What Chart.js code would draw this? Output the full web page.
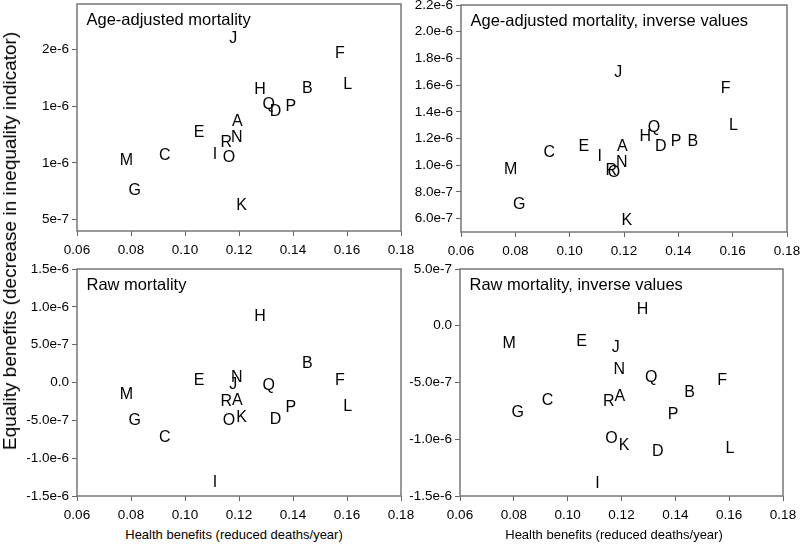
<!DOCTYPE html>
<html>
<head>
<meta charset="utf-8">
<script src="https://cdn.jsdelivr.net/npm/chart.js@4.4.1/dist/chart.umd.min.js"></script>
<style>
    html, body { margin: 0; padding: 0; background: #fff; }
    #page { position: relative; width: 800px; height: 546px; overflow: hidden; font-family: "Liberation Sans", Arial, sans-serif; }
    #page canvas { position: absolute; }
    .axis-title { position: absolute; color: #000; white-space: nowrap; }
    #yTitle { font-size: 19px; left: 10px; top: 241px; transform: translate(-50%, -50%) rotate(-90deg); }
    .x-title { font-size: 13px; line-height: 16px; top: 527px; transform: translateX(-50%); }
</style>
</head>
<body>
<div id="page">
    <canvas id="ageChart" width="420" height="262" style="left:0;top:0"></canvas>
    <canvas id="ageInvChart" width="400" height="262" style="left:400px;top:0"></canvas>
    <canvas id="rawChart" width="420" height="264" style="left:0;top:262px"></canvas>
    <canvas id="rawInvChart" width="400" height="264" style="left:400px;top:262px"></canvas>
    <div id="yTitle" class="axis-title">Equality benefits (decrease in inequality indicator)</div>
    <div class="axis-title x-title" style="left:234px">Health benefits (reduced deaths/year)</div>
    <div class="axis-title x-title" style="left:614px">Health benefits (reduced deaths/year)</div>
</div>
<script>
const letters = ['A', 'B', 'C', 'D', 'E', 'F', 'G', 'H', 'I', 'J', 'K', 'L', 'M', 'N', 'O', 'P', 'Q', 'R'];

// health benefits (reduced deaths/year), same for every panel
const healthBenefits = [0.1194, 0.1453, 0.0925, 0.1335, 0.1052, 0.1574, 0.0814, 0.1278, 0.1111,
    0.1179, 0.1210, 0.1603, 0.0783, 0.1192, 0.1163, 0.1392, 0.1310, 0.1153];

// equality benefits, one list per panel
const ageAdjusted = [1.372e-6, 1.663e-6, 1.078e-6, 1.46e-6, 1.275e-6, 1.974e-6, 0.767e-6, 1.657e-6, 1.085e-6,
    2.107e-6, 0.635e-6, 1.701e-6, 1.032e-6, 1.231e-6, 1.055e-6, 1.51e-6, 1.525e-6, 1.187e-6];
const ageAdjustedInverse = [1.148e-6, 1.19e-6, 1.108e-6, 1.148e-6, 1.153e-6, 1.584e-6, 0.717e-6, 1.223e-6, 1.078e-6,
    1.706e-6, 0.592e-6, 1.31e-6, 0.979e-6, 1.033e-6, 0.953e-6, 1.19e-6, 1.295e-6, 0.966e-6];
const rawMortality = [-0.22e-6, 0.27e-6, -0.705e-6, -0.471e-6, 0.036e-6, 0.045e-6, -0.484e-6, 0.886e-6, -1.309e-6,
    -0.008e-6, -0.45e-6, -0.304e-6, -0.14e-6, 0.08e-6, -0.484e-6, -0.308e-6, -0.03e-6, -0.229e-6];
const rawMortalityInverse = [-0.609e-6, -0.574e-6, -0.645e-6, -1.101e-6, -0.124e-6, -0.468e-6, -0.751e-6, 0.156e-6, -1.375e-6,
    -0.183e-6, -1.042e-6, -1.075e-6, -0.144e-6, -0.374e-6, -0.986e-6, -0.771e-6, -0.448e-6, -0.654e-6];

const xTicks = [0.06, 0.08, 0.10, 0.12, 0.14, 0.16, 0.18];
const xTickLabels = ['0.06', '0.08', '0.10', '0.12', '0.14', '0.16', '0.18'];

const ageTicks = [0.5e-6, 1.0e-6, 1.5e-6, 2.0e-6];
const ageTickLabels = ['5e-7', '1e-6', '1e-6', '2e-6'];
const ageInvTicks = [0.6e-6, 0.8e-6, 1.0e-6, 1.2e-6, 1.4e-6, 1.6e-6, 1.8e-6, 2.0e-6, 2.2e-6];
const ageInvTickLabels = ['6.0e-7', '8.0e-7', '1.0e-6', '1.2e-6', '1.4e-6', '1.6e-6', '1.8e-6', '2.0e-6', '2.2e-6'];
const rawTicks = [-1.5e-6, -1.0e-6, -0.5e-6, 0, 0.5e-6, 1.0e-6, 1.5e-6];
const rawTickLabels = ['-1.5e-6', '-1.0e-6', '-5.0e-7', '0.0', '5.0e-7', '1.0e-6', '1.5e-6'];
const rawInvTicks = [-1.5e-6, -1.0e-6, -0.5e-6, 0, 0.5e-6];
const rawInvTickLabels = ['-1.5e-6', '-1.0e-6', '-5.0e-7', '0.0', '5.0e-7'];

const FONT = '"Liberation Sans", Arial, sans-serif';

const panelPlugin = {
    id: 'panelPlugin',
    afterDraw(chart, args, opts) {
        const { ctx, chartArea } = chart;
        ctx.save();
        ctx.strokeStyle = '#777';
        ctx.lineWidth = 1.5;
        ctx.strokeRect(chartArea.left, chartArea.top, chartArea.right - chartArea.left, chartArea.bottom - chartArea.top);

        ctx.fillStyle = '#000';
        ctx.textBaseline = 'alphabetic';
        ctx.font = `16.5px ${FONT}`;
        ctx.textAlign = 'left';
        ctx.fillText(opts.title, chartArea.left + 9.5, chartArea.top + 21);

        // each point is shown as its letter
        ctx.font = `16px ${FONT}`;
        ctx.textAlign = 'center';
        chart.getDatasetMeta(0).data.forEach((pt, i) => {
            ctx.fillText(letters[i], pt.x, pt.y + 5.7);
        });
        ctx.restore();
    }
};

function makePanel(canvasId, title, values, yMin, yMax, yTicks, yLabels, box) {
    const points = healthBenefits.map((x, i) => ({ x, y: values[i] }));
    return new Chart(document.getElementById(canvasId), {
        type: 'scatter',
        data: { datasets: [{ data: points, pointRadius: 0, pointHoverRadius: 0 }] },
        options: {
            responsive: false,
            animation: false,
            events: [],
            layout: { padding: { left: 0, top: box.padTop, right: box.padRight, bottom: 0 } },
            plugins: {
                legend: { display: false },
                tooltip: { enabled: false },
                panelPlugin: { title }
            },
            scales: {
                x: {
                    type: 'linear',
                    min: 0.06,
                    max: 0.18,
                    border: { display: false },
                    grid: { drawOnChartArea: false, tickLength: 5, color: '#666', lineWidth: 1 },
                    ticks: {
                        padding: 6,
                        color: '#000',
                        font: { family: FONT, size: 13.5 },
                        maxRotation: 0,
                        autoSkip: false,
                        callback: (value, index) => xTickLabels[index]
                    },
                    afterBuildTicks: (scale) => { scale.ticks = xTicks.map((v) => ({ value: v })); },
                    afterFit: (scale) => {
                        scale.height = box.xHeight;
                        scale.paddingLeft = 0;
                        scale.paddingRight = 0;
                    }
                },
                y: {
                    type: 'linear',
                    min: yMin,
                    max: yMax,
                    border: { display: false },
                    grid: { drawOnChartArea: false, tickLength: 5, color: '#666', lineWidth: 1 },
                    ticks: {
                        padding: 3,
                        color: '#000',
                        font: { family: FONT, size: 13.5 },
                        autoSkip: false,
                        callback: (value, index) => yLabels[index]
                    },
                    afterBuildTicks: (scale) => { scale.ticks = yTicks.map((v) => ({ value: v })); },
                    afterFit: (scale) => {
                        scale.width = box.yWidth;
                        scale.paddingTop = 0;
                        scale.paddingBottom = 0;
                    }
                }
            }
        },
        plugins: [panelPlugin]
    });
}

document.addEventListener('DOMContentLoaded', () => {
    makePanel('ageChart', 'Age-adjusted mortality', ageAdjusted, 0.4e-6, 2.4e-6, ageTicks, ageTickLabels,
        { yWidth: 77, xHeight: 31, padTop: 4, padRight: 19 });
    makePanel('ageInvChart', 'Age-adjusted mortality, inverse values', ageAdjustedInverse, 0.5e-6, 2.2e-6, ageInvTicks, ageInvTickLabels,
        { yWidth: 61, xHeight: 30, padTop: 5, padRight: 13 });
    makePanel('rawChart', 'Raw mortality', rawMortality, -1.5e-6, 1.5e-6, rawTicks, rawTickLabels,
        { yWidth: 77, xHeight: 30, padTop: 7, padRight: 19 });
    makePanel('rawInvChart', 'Raw mortality, inverse values', rawMortalityInverse, -1.5e-6, 0.5e-6, rawInvTicks, rawInvTickLabels,
        { yWidth: 60, xHeight: 30, padTop: 7, padRight: 17 });
});
</script>
</body>
</html>
